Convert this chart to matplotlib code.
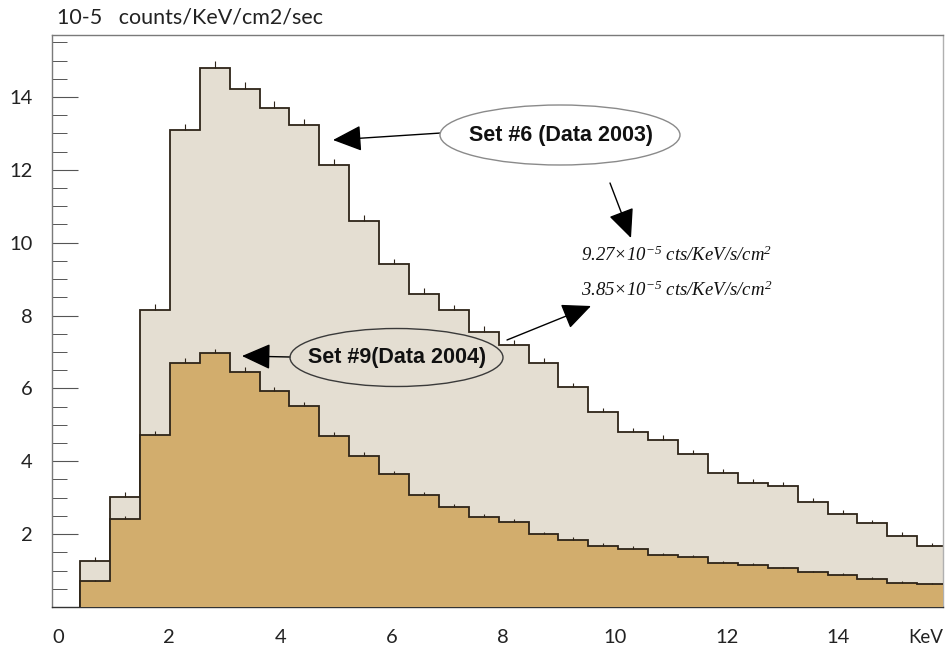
import matplotlib
matplotlib.use("Agg")
import matplotlib.pyplot as plt
from matplotlib.patches import Ellipse
import numpy as np

plt.rcParams['mathtext.fontset'] = 'custom'
plt.rcParams['mathtext.rm'] = 'Liberation Serif:italic'
plt.rcParams['mathtext.it'] = 'Liberation Serif:italic'

# ---- data -------------------------------------------------------------
bin_edges = [0.5, 1.0, 1.5, 2.0, 2.5, 3.0, 3.5, 4.0, 4.5, 5.0, 5.5, 6.0, 6.5, 7.0,
             7.5, 8.0, 8.5, 9.0, 9.5, 10.0, 10.5, 11.0, 11.5, 12.0, 12.5, 13.0,
             13.5, 14.0, 14.5, 15.0]
set6_2003 = [1.25, 3.01, 8.16, 13.09, 14.79, 14.23, 13.70, 13.22, 12.12, 10.60,
             9.41, 8.60, 8.16, 7.56, 7.18, 6.70, 6.03, 5.35, 4.79, 4.59,
             4.20, 3.67, 3.41, 3.32, 2.88, 2.55, 2.30, 1.96, 1.68]
set6_err = [0.12, 0.14, 0.16, 0.18, 0.19, 0.18, 0.18, 0.18, 0.17, 0.16,
            0.15, 0.15, 0.14, 0.14, 0.14, 0.13, 0.13, 0.12, 0.12, 0.12,
            0.11, 0.11, 0.11, 0.11, 0.10, 0.10, 0.10, 0.09, 0.09]
set9_2004 = [0.70, 2.42, 4.73, 6.71, 6.97, 6.46, 5.94, 5.52, 4.70, 4.15,
             3.65, 3.08, 2.74, 2.48, 2.34, 2.00, 1.84, 1.68, 1.60, 1.43,
             1.38, 1.20, 1.14, 1.06, 0.95, 0.88, 0.76, 0.65, 0.62]
set9_err = [0.05, 0.08, 0.10, 0.12, 0.12, 0.12, 0.11, 0.11, 0.10, 0.10,
            0.09, 0.09, 0.08, 0.08, 0.08, 0.07, 0.07, 0.07, 0.07, 0.06,
            0.06, 0.06, 0.06, 0.05, 0.05, 0.05, 0.05, 0.05, 0.05]
x_tick_labels = ['0', '2', '4', '6', '8', '10', '12', '14', 'KeV']
y_tick_values = [2, 4, 6, 8, 10, 12, 14]
label6 = 'Set #6 (Data 2003)'
label9 = 'Set #9(Data 2004)'
rate6 = r'$9.27{\times}10^{-5}$ cts/KeV/s/cm$^{2}$'
rate9 = r'$3.85{\times}10^{-5}$ cts/KeV/s/cm$^{2}$'
ylabel = '10-5   counts/KeV/cm2/sec'

# ---- figure ------------------------------------------------------------
W, H = 946, 653
fig = plt.figure(figsize=(W / 100, H / 100), dpi=100)
ax = fig.add_axes([52 / W, 1 - 607 / H, (943 - 52) / W, (607 - 35) / H])

BEIGE = '#E4DED2'
TAN = '#D2AD6D'
LINE = '#2E2418'

edges = np.array(bin_edges)
centers = 0.5 * (edges[:-1] + edges[1:])

ax.stairs(set6_2003, edges, fill=True, color=BEIGE, baseline=0, zorder=1)
ax.stairs(set6_2003, edges, color=LINE, lw=1.3, baseline=0, zorder=2)
ax.vlines(centers, set6_2003, np.array(set6_2003) + np.array(set6_err),
          color=LINE, lw=0.8, zorder=2)
ax.stairs(set9_2004, edges, fill=True, color=TAN, baseline=0, zorder=3)
ax.stairs(set9_2004, edges, color=LINE, lw=1.3, baseline=0, zorder=4)
ax.vlines(centers, set9_2004, np.array(set9_2004) + np.array(set9_err),
          color=LINE, lw=0.8, zorder=4)

ax.set_xlim(0.03, 14.93)
ax.set_ylim(0, 15.7)

# spines
for s in ['left', 'top']:
    ax.spines[s].set_color('#7a7a7a')
    ax.spines[s].set_linewidth(1.0)
ax.spines['right'].set_color('#b0b0b0')
ax.spines['right'].set_linewidth(1.0)
ax.spines['bottom'].set_color('#333333')
ax.spines['bottom'].set_linewidth(1.0)

# y ticks
ax.set_yticks(y_tick_values)
ax.set_yticks(np.arange(0.5, 15.6, 0.5), minor=True)
ax.tick_params(axis='y', which='major', direction='in', length=19, width=0.8,
               color='#555555', pad=14, labelsize=14.5)
ax.tick_params(axis='y', which='minor', direction='in', length=11, width=0.7,
               color='#555555')
for lab in ax.get_yticklabels():
    lab.set_family('Lato')
    lab.set_color('#222222')

# x tick labels placed where the reference shows them
x_label_pos = [(58 - 50.1) / 59.8, (169 - 50.1) / 59.8, (281 - 50.1) / 59.8,
               (392 - 50.1) / 59.8, (503 - 50.1) / 59.8, (615 - 50.1) / 59.8,
               (727 - 50.1) / 59.8, (838 - 50.1) / 59.8, (926 - 50.1) / 59.8]
ax.set_xticks(x_label_pos)
ax.set_xticklabels(x_tick_labels)
ax.tick_params(axis='x', which='major', length=0, pad=15.5, labelsize=14.5)
for lab in ax.get_xticklabels():
    lab.set_family('Lato')
    lab.set_color('#222222')
ax.get_xticklabels()[-1].set_fontsize(13.5)

# axis title
fig.text(57 / W, 1 - 17 / H, ylabel, family='Lato', fontsize=15.5, va='center',
         ha='left', color='#222222')


def fp(x, y):
    return (x / W, 1 - y / H)


# ellipses
e6 = Ellipse(fp(560, 135), 240 / W, 60 / H, transform=fig.transFigure,
             facecolor='white', edgecolor='#8a8a8a', lw=1.0, zorder=5)
fig.patches.append(e6)
e9 = Ellipse(fp(396.5, 357.5), 213 / W, 58 / H, transform=fig.transFigure,
             facecolor='none', edgecolor='#3a3a3a', lw=1.0, zorder=5)
fig.patches.append(e9)
fig.text(*fp(561, 136), label6, family='Liberation Sans', fontweight='bold',
         fontsize=15.5, ha='center', va='center', color='#111111', zorder=6)
fig.text(*fp(397, 358), label9, family='Liberation Sans', fontweight='bold',
         fontsize=15.5, ha='center', va='center', color='#111111', zorder=6)

# rate text
fig.text(*fp(581, 255), rate6, family='Liberation Serif', style='italic',
         fontsize=13.5, ha='left', va='center', color='#111111')
fig.text(*fp(581, 290), rate9, family='Liberation Serif', style='italic',
         fontsize=13.5, ha='left', va='center', color='#111111')

# arrows
arrow_style = dict(arrowstyle='-|>,head_length=1.0,head_width=0.45',
                   mutation_scale=18, lw=1.0, color='black',
                   shrinkA=0, shrinkB=0)
for start, end in [((441, 133), (333, 140)),
                   ((290, 357), (242, 356)),
                   ((610, 183), (631, 238)),
                   ((507, 340), (591, 306))]:
    fig.add_artist(matplotlib.text.Annotation(
        '', xy=fp(*end), xytext=fp(*start), xycoords='figure fraction',
        textcoords='figure fraction', arrowprops=arrow_style))

fig.savefig('out.png', dpi=100)
